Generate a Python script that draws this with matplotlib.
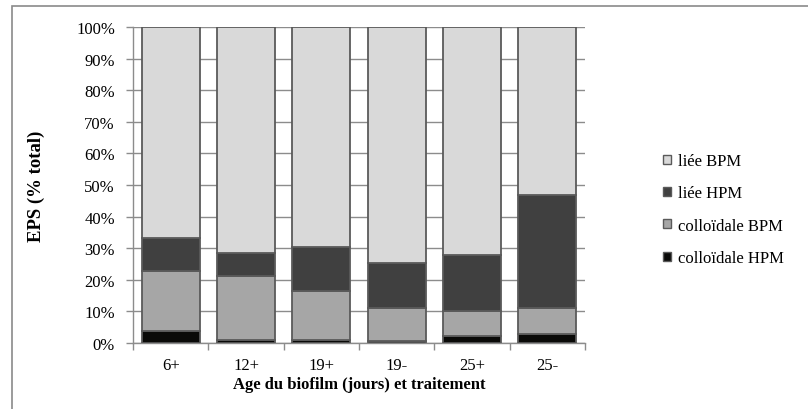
import matplotlib.pyplot as plt
from matplotlib.patches import Rectangle
from matplotlib.ticker import FuncFormatter, FixedLocator

categories = ["6+", "12+", "19+", "19-", "25+", "25-"]
colloidale_hpm = [3.7, 1.0, 1.0, 0.7, 2.1, 2.8]
colloidale_bpm = [19.0, 20.2, 15.6, 10.4, 8.1, 8.3]
liee_hpm = [10.5, 7.3, 13.7, 14.2, 17.5, 35.8]
liee_bpm = [66.8, 71.5, 69.7, 74.7, 72.3, 53.1]

series = [
    ("colloïdale HPM", colloidale_hpm, "#0a0a08"),
    ("colloïdale BPM", colloidale_bpm, "#a6a6a6"),
    ("liée HPM", liee_hpm, "#404040"),
    ("liée BPM", liee_bpm, "#d9d9d9"),
]


def percent_formatter(value, position):
    return f"{int(round(value))}%"


def main():
    plt.rcParams["font.family"] = ["Liberation Serif", "DejaVu Serif"]
    fig = plt.figure(figsize=(8.08, 4.10), dpi=100)
    ax = fig.add_axes([133 / 808, 1 - 344 / 410, 452 / 808, 316 / 410])

    # chart area border (only left and top visible in the crop)
    fig.patches.append(Rectangle((12 / 808, -0.1), 1.2, 1 - 7 / 410 + 0.1,
                                 transform=fig.transFigure, fill=False,
                                 edgecolor="#8a8a8a", linewidth=1.2, zorder=0))

    x = range(len(categories))
    bottom = [0.0] * len(categories)
    handles = []
    for label, values, color in series:
        bars = ax.bar(x, values, width=0.77, bottom=bottom, color=color,
                      edgecolor="#5a5a5a", linewidth=1.3, label=label, zorder=3)
        handles.append(bars)
        bottom = [b + v for b, v in zip(bottom, values)]

    ax.set_xlim(-0.5, len(categories) - 0.5)
    ax.set_ylim(0, 100)
    ax.set_yticks(range(0, 101, 10))
    ax.yaxis.set_major_formatter(FuncFormatter(percent_formatter))
    ax.yaxis.grid(True, color="#8c8c8c", linewidth=1.0, zorder=0)
    ax.set_axisbelow(True)

    ax.set_xticks(list(x))
    ax.set_xticklabels(categories)
    ax.tick_params(axis="x", which="major", length=0, pad=10, labelsize=12)
    ax.xaxis.set_minor_locator(FixedLocator([i - 0.5 for i in range(len(categories) + 1)]))
    ax.tick_params(axis="x", which="minor", length=5, color="#8c8c8c", width=1.0)
    ax.tick_params(axis="y", length=5, color="#8c8c8c", width=1.0, labelsize=12, pad=8)

    for side in ["top", "right"]:
        ax.spines[side].set_visible(False)
    for side in ["left", "bottom"]:
        ax.spines[side].set_color("#8c8c8c")
        ax.spines[side].set_linewidth(1.0)

    ax.set_ylabel("EPS (% total)", fontsize=13.5, fontweight="bold")
    ax.yaxis.set_label_coords(-0.195, 0.5)
    ax.set_xlabel("Age du biofilm (jours) et traitement", fontsize=12,
                  fontweight="bold", labelpad=2)

    leg = ax.legend(handles[::-1], [s[0] for s in series[::-1]],
                    loc="upper left", bbox_to_anchor=(648 / 808, 1 - 139 / 410),
                    bbox_transform=fig.transFigure, frameon=False,
                    fontsize=12, handlelength=0.45, handleheight=0.45,
                    handletextpad=0.45, labelspacing=0.98)
    for patch in leg.get_patches():
        patch.set_linewidth(1.0)

    fig.savefig("out.png", dpi=100)


if __name__ == "__main__":
    main()
